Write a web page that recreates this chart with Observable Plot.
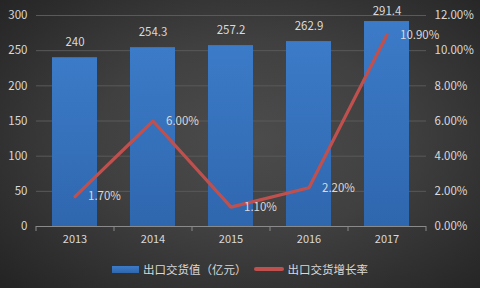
<!DOCTYPE html>
<html><head><meta charset="utf-8">
<script src="https://cdn.jsdelivr.net/npm/d3@7"></script>
<script src="https://cdn.jsdelivr.net/npm/@observablehq/plot@0.6"></script>
<style>
html,body{margin:0;padding:0;}
#wrap{width:480px;height:288px;overflow:hidden;position:relative;
 background:radial-gradient(ellipse 70% 75% at 52% 48%, #4c4c4c 0%, #404040 45%, #2e2e2e 80%, #242424 100%);
 font-family:"Noto Sans CJK SC","Noto Sans",sans-serif;}
#legend{position:absolute;left:0;top:258px;width:480px;height:22px;display:flex;justify-content:center;align-items:center;color:#d9d9d9;font-size:11.5px;}
.sw{display:inline-block;margin-right:4px;}
</style></head><body>
<div id="wrap"><div id="chart"></div><div id="legend"></div></div>
<script>
const years = ["2013","2014","2015","2016","2017"];
const exportValue = [240, 254.3, 257.2, 262.9, 291.4];
const growthRate = [1.70, 6.00, 1.10, 2.20, 10.90];
const leftTicks = [0, 50, 100, 150, 200, 250, 300];
const seriesNames = ["出口交货值（亿元）", "出口交货增长率"];

const rateMax = 12, valMax = 300, k = valMax / rateMax;
const data = years.map((y, i) => ({year: y, value: exportValue[i], rate: growthRate[i], rs: growthRate[i] * k}));

const W = 480, H = 252, mL = 36, mR = 54;
const step = (W - mL - mR) / years.length;
const txt = "#d9d9d9";
const font = "Noto Sans CJK SC";

const plot = Plot.plot({
  width: W, height: H,
  marginLeft: mL, marginRight: mR, marginTop: 15, marginBottom: 26,
  style: {background: "transparent", color: txt, fontFamily: font, fontSize: "11px", overflow: "visible"},
  x: {domain: years, paddingInner: 0.42, paddingOuter: 0.21, label: null},
  y: {domain: [0, valMax], label: null},
  marks: [
    Plot.gridY(leftTicks, {stroke: "#5a5a5a", strokeOpacity: 1, strokeWidth: 1}),
    Plot.barY(data, {x: "year", y: "value", fill: "url(#barGrad)"}),
    Plot.ruleY([0], {stroke: "#8a8a8a"}),
    Plot.axisX(years, {tickSize: 5, tickFormat: () => "", dx: -step / 2, stroke: "#8a8a8a"}),
    Plot.axisX([years[years.length - 1]], {tickSize: 5, tickFormat: () => "", dx: step / 2, stroke: "#8a8a8a"}),
    Plot.axisX({tickSize: 0, tickPadding: 9, fill: txt, fontSize: 11, label: null}),
    Plot.axisY(leftTicks, {anchor: "left", tickSize: 0, tickPadding: 9, fill: txt, fontSize: 11.5, label: null}),
    Plot.axisY(leftTicks, {anchor: "right", tickSize: 0, tickPadding: 8, fill: txt, fontSize: 11.5, label: null,
      tickFormat: d => (d / k).toFixed(2) + "%"}),
    Plot.text(data.filter(d => d.value < 280), {x: "year", y: "value", text: d => String(d.value), dy: -15, fill: txt, fontSize: 11.5}),
    Plot.text(data.filter(d => d.value >= 280), {x: "year", y: "value", text: d => String(d.value), dy: -10, fill: txt, fontSize: 11.5}),
    Plot.lineY(data, {x: "year", y: "rs", stroke: "#c0504d", strokeWidth: 3.2, strokeLinejoin: "miter"}),
    Plot.text(data, {x: "year", y: "rs", text: d => d.rate.toFixed(2) + "%", dx: 13, textAnchor: "start", fill: txt, fontSize: 11.5})
  ]
});

const ns = "http://www.w3.org/2000/svg";
const defs = document.createElementNS(ns, "defs");
defs.innerHTML = '<linearGradient id="barGrad" x1="0" y1="0" x2="0" y2="1" gradientUnits="objectBoundingBox">' +
  '<stop offset="0" stop-color="#3c7bc8"/><stop offset="1" stop-color="#2f67ae"/></linearGradient>';
plot.insertBefore(defs, plot.firstChild);
document.getElementById("chart").appendChild(plot);

const lg = document.getElementById("legend");
lg.innerHTML =
  '<span class="sw" style="width:27px;height:7px;background:linear-gradient(#3c7bc8,#2f67ae);"></span>' +
  '<span style="margin-right:7px">' + seriesNames[0] + '</span>' +
  '<span class="sw" style="width:30px;height:4px;border-radius:2px;background:#c0504d;"></span>' +
  '<span>' + seriesNames[1] + '</span>';
</script>
</body></html>
